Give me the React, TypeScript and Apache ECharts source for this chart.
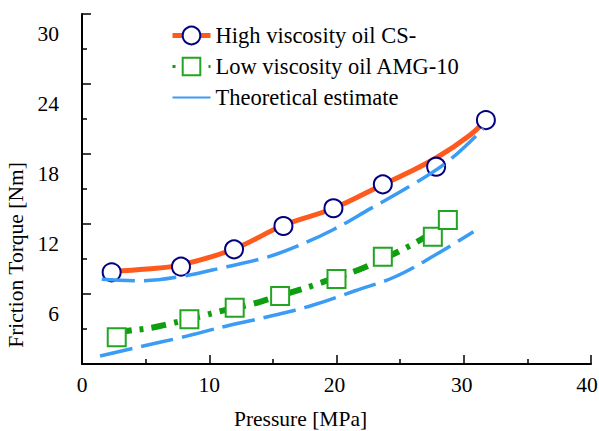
import React, { useEffect, useRef } from "react";
import * as echarts from "echarts";

// Measured data (points)
const pressureHigh = [2.33, 7.78, 11.95, 15.83, 19.76, 23.64, 27.83, 31.74];
const torqueHigh = [7.86, 8.34, 9.83, 11.83, 13.35, 15.4, 16.91, 20.91];

const pressureLow = [2.73, 8.44, 12.0, 15.57, 20.0, 23.64, 27.57, 28.75];
const torqueLow = [2.29, 3.83, 4.83, 5.83, 7.29, 9.2, 10.91, 12.34];

// Fitted curves through measurements
const fitHighX = [2.44, 5.1, 7.78, 11.95, 15.88, 19.73, 23.66, 25.24, 27.89, 30.5, 31.74];
const fitHighY = [7.97, 8.15, 8.5, 9.86, 11.91, 13.33, 15.39, 16.2, 17.7, 19.63, 20.91];

const fitLowX = [2.73, 3.51, 5.48, 6.84, 9.59, 10.69, 13.34, 14.47, 17.2, 18.5, 22.09, 25.53, 26.97];
const fitLowY = [2.7, 2.83, 3.11, 3.43, 4.16, 4.48, 5.14, 5.49, 6.39, 6.86, 8.23, 10.0, 10.89];

// Theoretical estimates
const theoHighX = [1.55, 4.56, 7.7, 11.38, 14.52, 16.67, 19.69, 22.7, 25.79, 28.8, 31.55];
const theoHighY = [7.26, 7.14, 7.48, 8.34, 9.15, 9.99, 11.49, 13.34, 15.26, 17.41, 20.2];

const theoLowX = [1.42, 4.56, 7.84, 11.38, 15.17, 18.18, 21.46, 24.61, 27.75, 30.76];
const theoLowY = [0.69, 1.48, 2.29, 3.26, 4.2, 5.06, 6.28, 7.48, 9.34, 11.34];

const xTickValues = [0, 10, 20, 30, 40];
const yTickValues = [0, 6, 12, 18, 24, 30];

const seriesNames = [
  "High viscosity oil CS-",
  "Low viscosity oil AMG-10",
  "Theoretical estimate",
];

const zip = (xs: number[], ys: number[]) => xs.map((x, i) => [x, ys[i]]);

const FONT = "Liberation Serif";
const ORANGE = "#ff5a1e";
const NAVY = "#000080";
const GREEN_LINE = "#0f9e0f";
const GREEN_MARK = "#22a522";
const BLUE = "#3a9cf4";

export default function App() {
  const ref = useRef<HTMLDivElement>(null);

  useEffect(() => {
    document.body.style.margin = "0";
    if (!ref.current) return;
    const chart = echarts.init(ref.current, undefined, { renderer: "svg" });
    const labelText = { fontFamily: FONT, fontSize: 21.5, color: "#000" };
    const option: any = {
      animation: false,
      backgroundColor: "#ffffff",
      grid: {
        left: 82,
        right: 8,
        top: 14,
        bottom: 67,
        containLabel: false,
        outerBoundsMode: "none",
      },
      legend: {
        orient: "vertical",
        left: 165,
        top: 19,
        itemWidth: 38,
        itemHeight: 22,
        itemGap: 8,
        textStyle: {
          fontFamily: FONT,
          fontSize: 22.5,
          lineHeight: 22,
          color: "#000",
        },
        data: [
          {
            name: seriesNames[0],
            itemStyle: { color: "#fff", borderColor: NAVY, borderWidth: 2 },
            lineStyle: { color: ORANGE, width: 5, type: "solid", opacity: 1 },
          },
          {
            name: seriesNames[1],
            itemStyle: { color: "#fff", borderColor: GREEN_MARK, borderWidth: 2 },
            lineStyle: { color: GREEN_LINE, width: 3, type: [3, 9], opacity: 1 },
          },
          {
            name: seriesNames[2],
            itemStyle: { opacity: 0 },
            lineStyle: { color: BLUE, width: 2, type: "solid", opacity: 1 },
          },
        ],
      },
      xAxis: {
        type: "value",
        min: 0,
        max: 40,
        interval: 10,
        axisLine: { show: true, lineStyle: { color: "#000", width: 2 } },
        axisTick: { show: true, inside: true, length: 9, lineStyle: { color: "#000", width: 1.5 } },
        minorTick: { show: true, splitNumber: 2, length: 5, lineStyle: { color: "#000", width: 1.5 } },
        splitLine: { show: false },
        minorSplitLine: { show: false },
        axisLabel: {
          ...labelText,
          margin: 10,
          formatter: (v: number) => {
            if (!xTickValues.includes(v)) return "";
            if (v === 40) return "{e|" + v + "}";
            if (v >= 20) return "{m|" + v + "}";
            return String(v);
          },
          rich: {
            m: { ...labelText, padding: [0, 4, 0, 0] },
            e: { ...labelText, padding: [0, 8, 0, 0] },
          },
        },
        name: "Pressure [MPa]",
        nameLocation: "middle",
        nameGap: 44,
        nameTextStyle: { ...labelText, padding: [0, 72, 0, 0] },
      },
      yAxis: {
        type: "value",
        min: 0,
        max: 30,
        interval: 6,
        axisLine: { show: true, lineStyle: { color: "#000", width: 2 } },
        axisTick: { show: true, inside: true, length: 9, lineStyle: { color: "#000", width: 1.5 } },
        minorTick: { show: true, splitNumber: 2, length: 5, lineStyle: { color: "#000", width: 1.5 } },
        splitLine: { show: false },
        minorSplitLine: { show: false },
        axisLabel: {
          ...labelText,
          margin: 23,
          verticalAlign: "top",
          lineHeight: 21,
          padding: [9, 0, 0, 0],
          formatter: (v: number) => (v !== 0 && yTickValues.includes(v) ? String(v) : ""),
        },
        name: "Friction Torque [Nm]",
        nameLocation: "middle",
        nameRotate: 90,
        nameGap: 54,
        nameTextStyle: { ...labelText, padding: [0, 132, 0, 0] },
      },
      series: [
        {
          name: "High viscosity fit",
          type: "line",
          data: zip(fitHighX, fitHighY),
          smooth: 0.4,
          symbol: "none",
          lineStyle: { color: ORANGE, width: 5 },
          z: 2,
        },
        {
          name: "Low viscosity fit",
          type: "line",
          data: zip(fitLowX, fitLowY),
          smooth: 0.4,
          symbol: "none",
          lineStyle: { color: GREEN_LINE, width: 6, type: [15, 8, 4, 8], cap: "butt" },
          z: 2,
        },
        {
          name: seriesNames[0],
          type: "line",
          data: zip(pressureHigh, torqueHigh),
          symbol: "circle",
          symbolSize: 18,
          lineStyle: { width: 0, opacity: 0 },
          itemStyle: { color: "#fff", borderColor: NAVY, borderWidth: 2 },
          z: 3,
        },
        {
          name: seriesNames[1],
          type: "line",
          data: zip(pressureLow, torqueLow),
          symbol: "rect",
          symbolSize: 18,
          lineStyle: { width: 0, opacity: 0 },
          itemStyle: { color: "#fff", borderColor: GREEN_MARK, borderWidth: 2 },
          z: 3,
        },
        {
          name: seriesNames[2],
          type: "line",
          data: zip(theoHighX, theoHighY),
          smooth: 0.4,
          symbol: "none",
          lineStyle: { color: BLUE, width: 3.5, type: [33, 9] },
          z: 4,
        },
        {
          name: seriesNames[2],
          type: "line",
          data: zip(theoLowX, theoLowY),
          smooth: 0.4,
          symbol: "none",
          lineStyle: { color: BLUE, width: 3.5, type: [33, 9] },
          z: 4,
        },
      ],
    };
    chart.setOption(option);
    return () => chart.dispose();
  }, []);

  return <div ref={ref} style={{ width: 599, height: 431 }} />;
}
